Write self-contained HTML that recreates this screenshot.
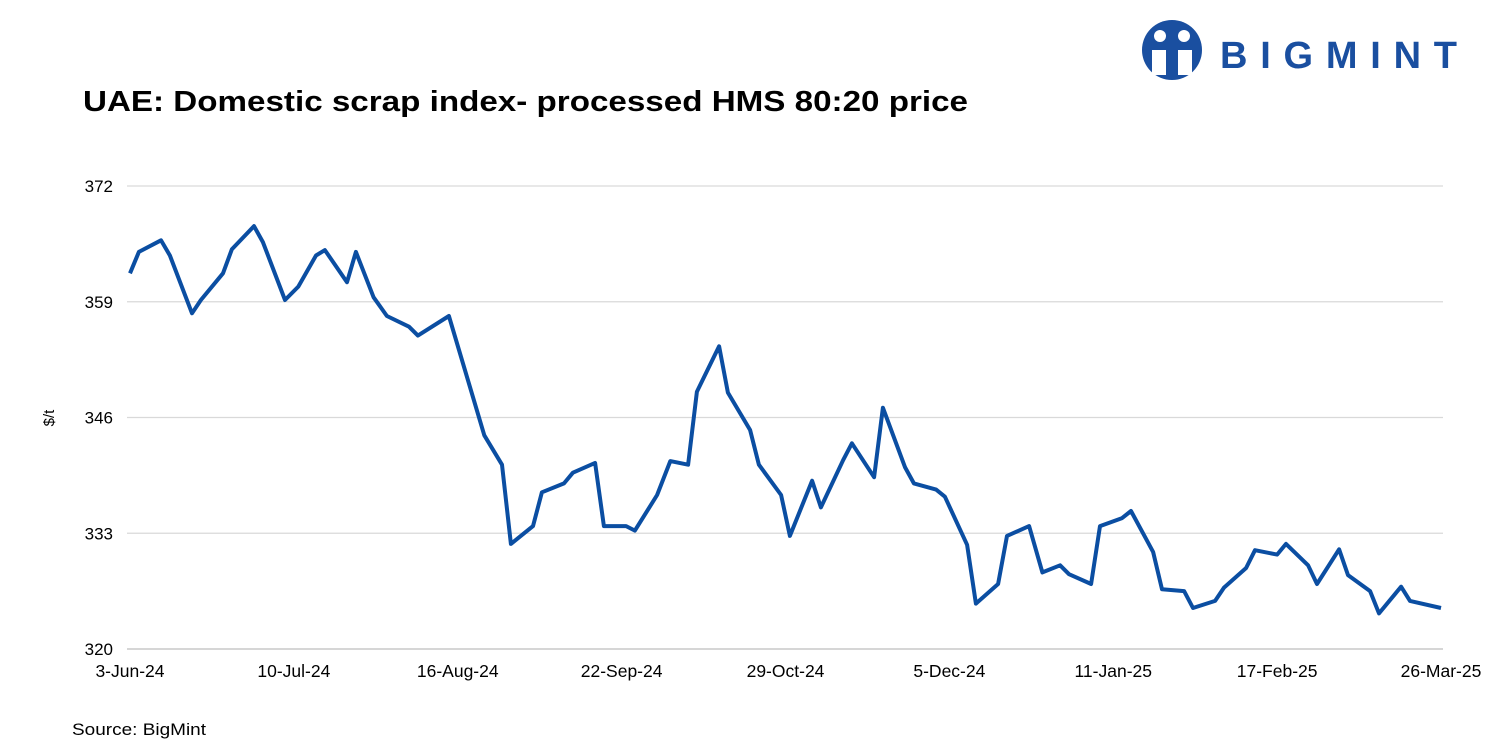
<!DOCTYPE html>
<html><head><meta charset="utf-8"><style>
body{margin:0;background:#fff;}
#wrap{position:relative;width:1500px;height:750px;overflow:hidden;font-family:"Liberation Sans",sans-serif;}
</style></head><body>
<div id="wrap">
<svg width="1500" height="750" id="svg">
  <g>
    <circle cx="1172" cy="50" r="30" fill="#1a4fa0"/>
    <circle cx="1160" cy="36" r="6" fill="#fff"/><circle cx="1184" cy="36" r="6" fill="#fff"/>
    <path d="M1152 50 h14 v25 h-14z M1178 50 h14 v25 h-14z" fill="#fff"/>
    <text x="1220" y="68" font-size="38" font-weight="bold" fill="#1a4fa0" textLength="237" lengthAdjust="spacing">BIGMINT</text>
  </g>
  <text x="83" y="111" font-size="29" font-weight="bold" fill="#000" textLength="885" lengthAdjust="spacingAndGlyphs">UAE: Domestic scrap index- processed HMS 80:20 price</text>
  <text transform="translate(54,418) rotate(-90)" text-anchor="middle" font-size="15" fill="#000">$/t</text>
  <text x="72" y="735" font-size="17" fill="#000" textLength="134" lengthAdjust="spacingAndGlyphs">Source: BigMint</text>
  <g id="grid"></g><g id="xt"></g><path id="line" fill="none" stroke="#0b4ea2" stroke-width="4" stroke-linejoin="round"/>
</svg>
</div>
<script>
const yTicks=[320,333,346,359,372];
const xLabels=["3-Jun-24","10-Jul-24","16-Aug-24","22-Sep-24","29-Oct-24","5-Dec-24","11-Jan-25","17-Feb-25","26-Mar-25"];
const xLabelDays=[0,37,74,111,148,185,222,259,296];
const days=[0,2,7,9,14,16,21,23,28,30,35,38,42,44,49,51,55,58,63,65,72,80,84,86,91,93,98,100,105,107,112,114,119,122,126,128,133,135,140,142,147,149,154,156,161,163,168,170,175,177,182,184,189,191,196,198,203,206,210,212,217,219,224,226,231,233,238,240,245,247,252,254,259,261,266,268,273,275,280,282,287,289,296];
const prices=[362.2,364.6,365.9,364.2,357.7,359.2,362.2,364.9,367.5,365.7,359.2,360.7,364.2,364.8,361.2,364.6,359.5,357.4,356.2,355.2,357.4,344.0,340.7,331.8,333.8,337.6,338.6,339.8,340.9,333.8,333.8,333.3,337.3,341.1,340.7,348.9,354.0,348.8,344.6,340.7,337.3,332.7,338.9,335.9,341.2,343.1,339.3,347.1,340.4,338.6,337.9,337.1,331.7,325.1,327.3,332.7,333.8,328.6,329.4,328.4,327.3,333.8,334.7,335.5,330.9,326.7,326.5,324.6,325.4,326.9,329.1,331.1,330.6,331.8,329.4,327.3,331.2,328.3,326.5,324.0,327.0,325.4,324.6];
const X=d=>130+d*(1311/296), Y=v=>649-(v-320)*(463/52);
const NS="http://www.w3.org/2000/svg";
const grid=document.getElementById('grid'), xt=document.getElementById('xt');
yTicks.forEach(t=>{
  const l=document.createElementNS(NS,'line');
  l.setAttribute('x1',127);l.setAttribute('x2',1443);l.setAttribute('y1',Y(t));l.setAttribute('y2',Y(t));
  l.setAttribute('stroke',t===320?'#bdbdbd':'#d9d9d9');l.setAttribute('stroke-width',1.3);
  
  
  grid.appendChild(l);
  const tx=document.createElementNS(NS,'text');
  tx.setAttribute('x',113);tx.setAttribute('y',Y(t)+6);tx.setAttribute('text-anchor','end');tx.setAttribute('font-size',17);
  tx.textContent=t;
  
  
  grid.appendChild(tx);
});
xLabels.forEach((s,i)=>{
  const tx=document.createElementNS(NS,'text');
  tx.setAttribute('x',X(xLabelDays[i]));tx.setAttribute('y',677);tx.setAttribute('text-anchor','middle');tx.setAttribute('font-size',17.5);
  tx.textContent=s;
  
  
  xt.appendChild(tx);
});
const line=document.getElementById('line');
line.setAttribute('d',days.map((d,i)=>(i?'L':'M')+X(d).toFixed(1)+' '+Y(prices[i]).toFixed(1)).join(' '));


</script>
</body></html>
